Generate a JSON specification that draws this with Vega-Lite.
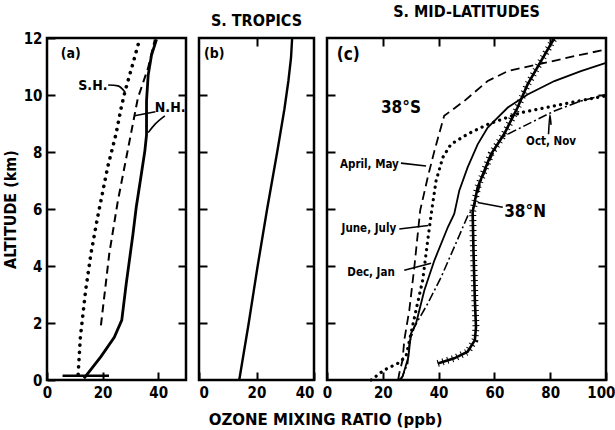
{
  "$schema": "https://vega.github.io/schema/vega-lite/v6.json",
  "background": "white",
  "padding": {"left": 0, "top": 2, "right": 0, "bottom": 0},
  "bounds": "flush",
  "spacing": 13,
  "title": {"text": "OZONE MIXING RATIO (ppb)", "orient": "bottom", "anchor": "middle", "font": "DejaVu Sans", "fontSize": 15, "fontWeight": "bold", "color": "black", "offset": 12, "dx": 17},
  "config": {
    "view": {"stroke": "black", "strokeWidth": 2.5},
    "font": "DejaVu Sans Condensed",
    "axis": {"domain": false, "grid": false, "tickSize": -8, "tickWidth": 2, "tickColor": "black", "labelPadding": 13, "labelFont": "DejaVu Sans Condensed", "labelFontWeight": "bold", "labelFontSize": 15, "labelColor": "black", "titleFont": "DejaVu Sans Condensed", "titleFontWeight": "bold", "titleFontSize": 16, "titleColor": "black", "titlePadding": 5},
    "title": {"font": "DejaVu Sans Condensed", "fontSize": 16, "fontWeight": "bold", "color": "black", "offset": 0}
  },
  "datasets": {
    "profiles": [
      {"panel": "a", "series": "SH", "ozone": 11.2, "alt": 0.2},
      {"panel": "a", "series": "SH", "ozone": 12.0, "alt": 1.5},
      {"panel": "a", "series": "SH", "ozone": 13.9, "alt": 3.15},
      {"panel": "a", "series": "SH", "ozone": 15.8, "alt": 4.43},
      {"panel": "a", "series": "SH", "ozone": 18.2, "alt": 5.71},
      {"panel": "a", "series": "SH", "ozone": 19.4, "alt": 6.29},
      {"panel": "a", "series": "SH", "ozone": 21.8, "alt": 7.46},
      {"panel": "a", "series": "SH", "ozone": 24.8, "alt": 8.62},
      {"panel": "a", "series": "SH", "ozone": 26.7, "alt": 9.56},
      {"panel": "a", "series": "SH", "ozone": 28.1, "alt": 10.14},
      {"panel": "a", "series": "SH", "ozone": 30.9, "alt": 11.1},
      {"panel": "a", "series": "SH", "ozone": 33.3, "alt": 11.95},
      {"panel": "a", "series": "dash", "ozone": 19.4, "alt": 1.92},
      {"panel": "a", "series": "dash", "ozone": 22.4, "alt": 4.43},
      {"panel": "a", "series": "dash", "ozone": 25.5, "alt": 6.29},
      {"panel": "a", "series": "dash", "ozone": 29.7, "alt": 8.39},
      {"panel": "a", "series": "dash", "ozone": 32.7, "alt": 9.9},
      {"panel": "a", "series": "dash", "ozone": 36.4, "alt": 10.96},
      {"panel": "a", "series": "dash", "ozone": 38.8, "alt": 11.95},
      {"panel": "a", "series": "NH", "ozone": 13.3, "alt": 0.06},
      {"panel": "a", "series": "NH", "ozone": 19.4, "alt": 0.82},
      {"panel": "a", "series": "NH", "ozone": 24.2, "alt": 1.5},
      {"panel": "a", "series": "NH", "ozone": 26.9, "alt": 2.1},
      {"panel": "a", "series": "NH", "ozone": 28.5, "alt": 3.38},
      {"panel": "a", "series": "NH", "ozone": 30.9, "alt": 5.1},
      {"panel": "a", "series": "NH", "ozone": 32.1, "alt": 6.06},
      {"panel": "a", "series": "NH", "ozone": 33.9, "alt": 7.2},
      {"panel": "a", "series": "NH", "ozone": 35.2, "alt": 8.04},
      {"panel": "a", "series": "NH", "ozone": 35.8, "alt": 8.6},
      {"panel": "a", "series": "NH", "ozone": 35.8, "alt": 9.8},
      {"panel": "a", "series": "NH", "ozone": 36.4, "alt": 10.7},
      {"panel": "a", "series": "NH", "ozone": 37.6, "alt": 11.4},
      {"panel": "a", "series": "NH", "ozone": 39.4, "alt": 11.95},
      {"panel": "b", "series": "trop", "ozone": 14.0, "alt": 0},
      {"panel": "b", "series": "trop", "ozone": 17.3, "alt": 2},
      {"panel": "b", "series": "trop", "ozone": 20.4, "alt": 4},
      {"panel": "b", "series": "trop", "ozone": 23.7, "alt": 6},
      {"panel": "b", "series": "trop", "ozone": 27.2, "alt": 8},
      {"panel": "b", "series": "trop", "ozone": 29.7, "alt": 9.5},
      {"panel": "b", "series": "trop", "ozone": 31.1, "alt": 10.5},
      {"panel": "b", "series": "trop", "ozone": 32.0, "alt": 11.3},
      {"panel": "b", "series": "trop", "ozone": 32.4, "alt": 12},
      {"panel": "c", "series": "AprMay", "ozone": 25.5, "alt": 0},
      {"panel": "c", "series": "AprMay", "ozone": 25.9, "alt": 0.23},
      {"panel": "c", "series": "AprMay", "ozone": 27.1, "alt": 0.7},
      {"panel": "c", "series": "AprMay", "ozone": 27.7, "alt": 1.4},
      {"panel": "c", "series": "AprMay", "ozone": 29.5, "alt": 2.45},
      {"panel": "c", "series": "AprMay", "ozone": 31.3, "alt": 3.96},
      {"panel": "c", "series": "AprMay", "ozone": 33.4, "alt": 5.95},
      {"panel": "c", "series": "AprMay", "ozone": 36.1, "alt": 7.11},
      {"panel": "c", "series": "AprMay", "ozone": 38.5, "alt": 8.04},
      {"panel": "c", "series": "AprMay", "ozone": 42.0, "alt": 9.27},
      {"panel": "c", "series": "AprMay", "ozone": 49.2, "alt": 9.79},
      {"panel": "c", "series": "AprMay", "ozone": 57.6, "alt": 10.49},
      {"panel": "c", "series": "AprMay", "ozone": 64.8, "alt": 10.84},
      {"panel": "c", "series": "AprMay", "ozone": 75.5, "alt": 11.07},
      {"panel": "c", "series": "AprMay", "ozone": 88.6, "alt": 11.36},
      {"panel": "c", "series": "AprMay", "ozone": 100, "alt": 11.6},
      {"panel": "c", "series": "JunJul", "ozone": 15.8, "alt": 0},
      {"panel": "c", "series": "JunJul", "ozone": 20.5, "alt": 0.35},
      {"panel": "c", "series": "JunJul", "ozone": 25.3, "alt": 0.58},
      {"panel": "c", "series": "JunJul", "ozone": 28.3, "alt": 0.82},
      {"panel": "c", "series": "JunJul", "ozone": 30.1, "alt": 1.63},
      {"panel": "c", "series": "JunJul", "ozone": 31.9, "alt": 2.45},
      {"panel": "c", "series": "JunJul", "ozone": 34.3, "alt": 3.5},
      {"panel": "c", "series": "JunJul", "ozone": 36.1, "alt": 4.9},
      {"panel": "c", "series": "JunJul", "ozone": 37.6, "alt": 6.0},
      {"panel": "c", "series": "JunJul", "ozone": 39.1, "alt": 6.99},
      {"panel": "c", "series": "JunJul", "ozone": 41.5, "alt": 7.81},
      {"panel": "c", "series": "JunJul", "ozone": 44.4, "alt": 8.27},
      {"panel": "c", "series": "JunJul", "ozone": 50.4, "alt": 8.63},
      {"panel": "c", "series": "JunJul", "ozone": 57.6, "alt": 8.97},
      {"panel": "c", "series": "JunJul", "ozone": 69.5, "alt": 9.38},
      {"panel": "c", "series": "JunJul", "ozone": 81.5, "alt": 9.62},
      {"panel": "c", "series": "JunJul", "ozone": 93.4, "alt": 9.85},
      {"panel": "c", "series": "JunJul", "ozone": 100, "alt": 9.97},
      {"panel": "c", "series": "DecJan", "ozone": 25.9, "alt": 0},
      {"panel": "c", "series": "DecJan", "ozone": 27.1, "alt": 0.12},
      {"panel": "c", "series": "DecJan", "ozone": 29.2, "alt": 0.82},
      {"panel": "c", "series": "DecJan", "ozone": 30.1, "alt": 1.63},
      {"panel": "c", "series": "DecJan", "ozone": 31.9, "alt": 1.98},
      {"panel": "c", "series": "DecJan", "ozone": 34.9, "alt": 3.15},
      {"panel": "c", "series": "DecJan", "ozone": 38.5, "alt": 4.2},
      {"panel": "c", "series": "DecJan", "ozone": 43.3, "alt": 5.36},
      {"panel": "c", "series": "DecJan", "ozone": 45.6, "alt": 5.83},
      {"panel": "c", "series": "DecJan", "ozone": 47.4, "alt": 6.64},
      {"panel": "c", "series": "DecJan", "ozone": 50.4, "alt": 7.46},
      {"panel": "c", "series": "DecJan", "ozone": 54.0, "alt": 8.27},
      {"panel": "c", "series": "DecJan", "ozone": 57.6, "alt": 8.86},
      {"panel": "c", "series": "DecJan", "ozone": 64.8, "alt": 9.56},
      {"panel": "c", "series": "DecJan", "ozone": 71.9, "alt": 10.02},
      {"panel": "c", "series": "DecJan", "ozone": 81.5, "alt": 10.49},
      {"panel": "c", "series": "DecJan", "ozone": 91.0, "alt": 10.84},
      {"panel": "c", "series": "DecJan", "ozone": 100, "alt": 11.13},
      {"panel": "c", "series": "OctNov", "ozone": 26.5, "alt": 0},
      {"panel": "c", "series": "OctNov", "ozone": 28.9, "alt": 0.58},
      {"panel": "c", "series": "OctNov", "ozone": 29.5, "alt": 1.28},
      {"panel": "c", "series": "OctNov", "ozone": 31.3, "alt": 1.86},
      {"panel": "c", "series": "OctNov", "ozone": 36.1, "alt": 2.68},
      {"panel": "c", "series": "OctNov", "ozone": 40.9, "alt": 3.61},
      {"panel": "c", "series": "OctNov", "ozone": 45.6, "alt": 4.66},
      {"panel": "c", "series": "OctNov", "ozone": 50.4, "alt": 5.75},
      {"panel": "c", "series": "OctNov", "ozone": 52.8, "alt": 6.1},
      {"panel": "c", "series": "OctNov", "ozone": 55.2, "alt": 6.99},
      {"panel": "c", "series": "OctNov", "ozone": 58.8, "alt": 7.81},
      {"panel": "c", "series": "OctNov", "ozone": 62.4, "alt": 8.5},
      {"panel": "c", "series": "OctNov", "ozone": 67.1, "alt": 8.74},
      {"panel": "c", "series": "OctNov", "ozone": 74.3, "alt": 9.09},
      {"panel": "c", "series": "OctNov", "ozone": 81.5, "alt": 9.44},
      {"panel": "c", "series": "OctNov", "ozone": 91.0, "alt": 9.79},
      {"panel": "c", "series": "OctNov", "ozone": 100, "alt": 10.02},
      {"panel": "c", "series": "N38", "ozone": 39.7, "alt": 0.58},
      {"panel": "c", "series": "N38", "ozone": 45.6, "alt": 0.76},
      {"panel": "c", "series": "N38", "ozone": 50.4, "alt": 0.99},
      {"panel": "c", "series": "N38", "ozone": 53.0, "alt": 1.4},
      {"panel": "c", "series": "N38", "ozone": 53.4, "alt": 1.86},
      {"panel": "c", "series": "N38", "ozone": 53.0, "alt": 2.8},
      {"panel": "c", "series": "N38", "ozone": 52.5, "alt": 4.55},
      {"panel": "c", "series": "N38", "ozone": 52.2, "alt": 5.9},
      {"panel": "c", "series": "N38", "ozone": 54.0, "alt": 6.76},
      {"panel": "c", "series": "N38", "ozone": 58.8, "alt": 7.93},
      {"panel": "c", "series": "N38", "ozone": 63.5, "alt": 8.63},
      {"panel": "c", "series": "N38", "ozone": 68.3, "alt": 9.56},
      {"panel": "c", "series": "N38", "ozone": 71.9, "alt": 10.37},
      {"panel": "c", "series": "N38", "ozone": 76.7, "alt": 11.19},
      {"panel": "c", "series": "N38", "ozone": 81.5, "alt": 12.0}
    ],
    "leaders": [
      {"panel": "a", "id": "SH", "ozone": 22.0, "alt": 10.35},
      {"panel": "a", "id": "SH", "ozone": 25.5, "alt": 10.32},
      {"panel": "a", "id": "SH", "ozone": 28.1, "alt": 10.1},
      {"panel": "a", "id": "NH1", "ozone": 39.0, "alt": 9.41},
      {"panel": "a", "id": "NH1", "ozone": 31.5, "alt": 9.27},
      {"panel": "a", "id": "NH2", "ozone": 42.4, "alt": 9.27},
      {"panel": "a", "id": "NH2", "ozone": 38.8, "alt": 8.97},
      {"panel": "a", "id": "NH2", "ozone": 36.4, "alt": 8.68},
      {"panel": "c", "id": "Apr", "ozone": 26.5, "alt": 7.61},
      {"panel": "c", "id": "Apr", "ozone": 35.5, "alt": 7.51},
      {"panel": "c", "id": "Jun", "ozone": 25.9, "alt": 5.3},
      {"panel": "c", "id": "Jun", "ozone": 36.3, "alt": 5.42},
      {"panel": "c", "id": "Dec", "ozone": 27.7, "alt": 3.85},
      {"panel": "c", "id": "Dec", "ozone": 37.3, "alt": 4.1},
      {"panel": "c", "id": "N38", "ozone": 63.0, "alt": 6.06},
      {"panel": "c", "id": "N38", "ozone": 54.0, "alt": 6.23},
      {"panel": "c", "id": "Oct", "ozone": 79.4, "alt": 8.62},
      {"panel": "c", "id": "Oct", "ozone": 80.3, "alt": 8.95},
      {"panel": "c", "id": "Oct", "ozone": 79.9, "alt": 9.3}
    ],
    "labels": [
      {"panel": "a", "label": "(a)", "ozone": 8.5, "alt": 11.43},
      {"panel": "a", "label": "S.H.", "ozone": 16.5, "alt": 10.3},
      {"panel": "a", "label": "N.H.", "ozone": 44.3, "alt": 9.53},
      {"panel": "b", "label": "(b)", "ozone": 5.3, "alt": 11.43},
      {"panel": "c", "label": "(c)", "ozone": 7.6, "alt": 11.42},
      {"panel": "c", "label": "38°S", "ozone": 26.5, "alt": 9.56},
      {"panel": "c", "label": "38°N", "ozone": 71.0, "alt": 5.91},
      {"panel": "c", "label": "April, May", "ozone": 15.2, "alt": 7.55},
      {"panel": "c", "label": "June, July", "ozone": 15.0, "alt": 5.31},
      {"panel": "c", "label": "Dec, Jan", "ozone": 15.8, "alt": 3.76},
      {"panel": "c", "label": "Oct, Nov", "ozone": 80.3, "alt": 8.36}
    ],
    "bars": [
      {"panel": "a", "lo": 5.6, "hi": 22.3, "alt": 0.15}
    ]
  },
  "hconcat": [
    {
      "width": 139,
      "height": 342,
      "resolve": {"axis": {"x": "independent", "y": "independent"}},
      "layer": [
        {
          "data": {"name": "profiles"},
          "transform": [{"filter": "datum.panel === 'a' && datum.series === 'SH'"}],
          "mark": {"type": "line", "stroke": "black", "strokeWidth": 3.6, "strokeDash": [0.1, 7.2], "strokeCap": "round"},
          "encoding": {
            "x": {"field": "ozone", "type": "quantitative", "scale": {"domain": [0, 50], "nice": false}, "axis": {"values": [0, 20, 40], "title": null, "labelFlush": false}},
            "y": {"field": "alt", "type": "quantitative", "scale": {"domain": [0, 12], "nice": false}, "axis": {"values": [0, 2, 4, 6, 8, 10, 12], "title": "ALTITUDE (km)"}},
            "order": {"field": "alt"}
          }
        },
        {
          "data": {"name": "profiles"},
          "transform": [{"filter": "datum.panel === 'a' && datum.series === 'NH'"}],
          "mark": {"type": "line", "stroke": "black", "strokeWidth": 2.8},
          "encoding": {
            "x": {"field": "ozone", "type": "quantitative", "scale": {"domain": [0, 50], "nice": false}, "axis": null},
            "y": {"field": "alt", "type": "quantitative", "scale": {"domain": [0, 12], "nice": false}, "axis": {"orient": "right", "values": [2, 4, 6, 8, 10], "labels": false, "title": null}},
            "order": {"field": "alt"}
          }
        },
        {
          "data": {"name": "profiles"},
          "transform": [{"filter": "datum.panel === 'a' && datum.series === 'dash'"}],
          "mark": {"type": "line", "stroke": "black", "strokeWidth": 2, "strokeDash": [8, 5]},
          "encoding": {
            "x": {"field": "ozone", "type": "quantitative", "scale": {"domain": [0, 50], "nice": false}, "axis": null},
            "y": {"field": "alt", "type": "quantitative", "scale": {"domain": [0, 12], "nice": false}, "axis": null},
            "order": {"field": "alt"}
          }
        },
        {
          "data": {"name": "bars"},
          "transform": [{"filter": "datum.panel === 'a'"}],
          "mark": {"type": "rule", "stroke": "black", "strokeWidth": 2.5},
          "encoding": {
            "x": {"field": "lo", "type": "quantitative", "scale": {"domain": [0, 50], "nice": false}, "axis": null},
            "x2": {"field": "hi"},
            "y": {"field": "alt", "type": "quantitative", "scale": {"domain": [0, 12], "nice": false}, "axis": null}
          }
        },
        {
          "data": {"name": "leaders"},
          "transform": [{"filter": "datum.panel === 'a'"}],
          "mark": {"type": "line", "stroke": "black", "strokeWidth": 1.6, "interpolate": "monotone"},
          "encoding": {
            "x": {"field": "ozone", "type": "quantitative", "scale": {"domain": [0, 50], "nice": false}, "axis": null},
            "y": {"field": "alt", "type": "quantitative", "scale": {"domain": [0, 12], "nice": false}, "axis": null},
            "detail": {"field": "id"}
          }
        },
        {
          "data": {"name": "labels"},
          "transform": [{"filter": "datum.panel === 'a'"}],
          "mark": {"type": "text", "font": "DejaVu Sans Condensed", "fontWeight": "bold", "fontSize": 14, "align": "center", "baseline": "middle", "color": "black"},
          "encoding": {
            "x": {"field": "ozone", "type": "quantitative", "scale": {"domain": [0, 50], "nice": false}, "axis": null},
            "y": {"field": "alt", "type": "quantitative", "scale": {"domain": [0, 12], "nice": false}, "axis": null},
            "text": {"field": "label"}
          }
        }
      ]
    },
    {
      "width": 115,
      "height": 342,
      "title": {"text": "S. TROPICS"},
      "resolve": {"axis": {"x": "independent", "y": "independent"}},
      "layer": [
        {
          "data": {"name": "profiles"},
          "transform": [{"filter": "datum.panel === 'b'"}],
          "mark": {"type": "line", "stroke": "black", "strokeWidth": 2.4},
          "encoding": {
            "x": {"field": "ozone", "type": "quantitative", "scale": {"domain": [0, 40], "nice": false}, "axis": {"values": [0, 20, 40], "title": null, "labelFlush": true}},
            "y": {"field": "alt", "type": "quantitative", "scale": {"domain": [0, 12], "nice": false}, "axis": {"values": [2, 4, 6, 8, 10], "labels": false, "title": null}},
            "order": {"field": "alt"}
          }
        },
        {
          "data": {"name": "labels"},
          "transform": [{"filter": "datum.panel === 'b'"}],
          "mark": {"type": "text", "font": "DejaVu Sans Condensed", "fontWeight": "bold", "fontSize": 14, "align": "center", "baseline": "middle", "color": "black"},
          "encoding": {
            "x": {"field": "ozone", "type": "quantitative", "scale": {"domain": [0, 40], "nice": false}, "axis": {"orient": "top", "values": [20], "labels": false, "title": null}},
            "y": {"field": "alt", "type": "quantitative", "scale": {"domain": [0, 12], "nice": false}, "axis": {"orient": "right", "values": [2, 4, 6, 8, 10], "labels": false, "title": null}},
            "text": {"field": "label"}
          }
        }
      ]
    },
    {
      "width": 279,
      "height": 342,
      "title": {"text": "S.  MID-LATITUDES"},
      "resolve": {"axis": {"x": "independent", "y": "independent"}},
      "layer": [
        {
          "data": {"name": "profiles"},
          "transform": [{"filter": "datum.panel === 'c' && datum.series === 'AprMay'"}],
          "mark": {"type": "line", "stroke": "black", "strokeWidth": 1.8, "strokeDash": [9, 5]},
          "encoding": {
            "x": {"field": "ozone", "type": "quantitative", "scale": {"domain": [0, 100], "nice": false}, "axis": {"values": [0, 20, 40, 60, 80, 100], "title": null, "labelFlush": false, "labelAlign": {"condition": {"test": "datum.value === 100", "value": "right"}, "value": "center"}, "labelOffset": {"condition": {"test": "datum.value === 100", "value": 9}, "value": 0}}},
            "y": {"field": "alt", "type": "quantitative", "scale": {"domain": [0, 12], "nice": false}, "axis": {"values": [2, 4, 6, 8, 10], "labels": false, "title": null}},
            "order": {"field": "alt"}
          }
        },
        {
          "data": {"name": "profiles"},
          "transform": [{"filter": "datum.panel === 'c' && datum.series === 'DecJan'"}],
          "mark": {"type": "line", "stroke": "black", "strokeWidth": 1.8},
          "encoding": {
            "x": {"field": "ozone", "type": "quantitative", "scale": {"domain": [0, 100], "nice": false}, "axis": {"orient": "top", "values": [20, 40, 60, 80], "labels": false, "title": null}},
            "y": {"field": "alt", "type": "quantitative", "scale": {"domain": [0, 12], "nice": false}, "axis": {"orient": "right", "values": [2, 4, 6, 8, 10], "labels": false, "title": null}},
            "order": {"field": "alt"}
          }
        },
        {
          "data": {"name": "profiles"},
          "transform": [{"filter": "datum.panel === 'c' && datum.series === 'JunJul'"}],
          "mark": {"type": "line", "stroke": "black", "strokeWidth": 3.2, "strokeDash": [0.1, 6.2], "strokeCap": "round"},
          "encoding": {
            "x": {"field": "ozone", "type": "quantitative", "scale": {"domain": [0, 100], "nice": false}, "axis": null},
            "y": {"field": "alt", "type": "quantitative", "scale": {"domain": [0, 12], "nice": false}, "axis": null},
            "order": {"field": "alt"}
          }
        },
        {
          "data": {"name": "profiles"},
          "transform": [{"filter": "datum.panel === 'c' && datum.series === 'OctNov'"}],
          "mark": {"type": "line", "stroke": "black", "strokeWidth": 1.6, "strokeDash": [9, 3, 2, 3]},
          "encoding": {
            "x": {"field": "ozone", "type": "quantitative", "scale": {"domain": [0, 100], "nice": false}, "axis": null},
            "y": {"field": "alt", "type": "quantitative", "scale": {"domain": [0, 12], "nice": false}, "axis": null},
            "order": {"field": "alt"}
          }
        },
        {
          "data": {"name": "profiles"},
          "transform": [{"filter": "datum.panel === 'c' && datum.series === 'N38'"}],
          "mark": {"type": "line", "stroke": "black", "strokeWidth": 2.6},
          "encoding": {
            "x": {"field": "ozone", "type": "quantitative", "scale": {"domain": [0, 100], "nice": false}, "axis": null},
            "y": {"field": "alt", "type": "quantitative", "scale": {"domain": [0, 12], "nice": false}, "axis": null},
            "order": {"field": "alt"}
          }
        },
        {
          "data": {"name": "profiles"},
          "transform": [{"filter": "datum.panel === 'c' && datum.series === 'N38'"}],
          "mark": {"type": "line", "stroke": "black", "strokeWidth": 7, "strokeDash": [1, 4]},
          "encoding": {
            "x": {"field": "ozone", "type": "quantitative", "scale": {"domain": [0, 100], "nice": false}, "axis": null},
            "y": {"field": "alt", "type": "quantitative", "scale": {"domain": [0, 12], "nice": false}, "axis": null},
            "order": {"field": "alt"}
          }
        },
        {
          "data": {"name": "leaders"},
          "transform": [{"filter": "datum.panel === 'c'"}],
          "mark": {"type": "line", "stroke": "black", "strokeWidth": 1.6, "interpolate": "monotone"},
          "encoding": {
            "x": {"field": "ozone", "type": "quantitative", "scale": {"domain": [0, 100], "nice": false}, "axis": null},
            "y": {"field": "alt", "type": "quantitative", "scale": {"domain": [0, 12], "nice": false}, "axis": null},
            "detail": {"field": "id"}
          }
        },
        {
          "data": {"name": "labels"},
          "transform": [{"filter": "datum.panel === 'c' && indexof(['38°S', '38°N', '(c)'], datum.label) >= 0"}],
          "mark": {"type": "text", "font": "DejaVu Sans Condensed", "fontWeight": "bold", "fontSize": 17, "align": "center", "baseline": "middle", "color": "black"},
          "encoding": {
            "x": {"field": "ozone", "type": "quantitative", "scale": {"domain": [0, 100], "nice": false}, "axis": null},
            "y": {"field": "alt", "type": "quantitative", "scale": {"domain": [0, 12], "nice": false}, "axis": null},
            "text": {"field": "label"}
          }
        },
        {
          "data": {"name": "labels"},
          "transform": [{"filter": "datum.panel === 'c' && indexof(['38°S', '38°N', '(c)'], datum.label) < 0"}],
          "mark": {"type": "text", "font": "DejaVu Sans Condensed", "fontWeight": "bold", "fontSize": 11.5, "align": "center", "baseline": "middle", "color": "black"},
          "encoding": {
            "x": {"field": "ozone", "type": "quantitative", "scale": {"domain": [0, 100], "nice": false}, "axis": null},
            "y": {"field": "alt", "type": "quantitative", "scale": {"domain": [0, 12], "nice": false}, "axis": null},
            "text": {"field": "label"}
          }
        }
      ]
    }
  ]
}
